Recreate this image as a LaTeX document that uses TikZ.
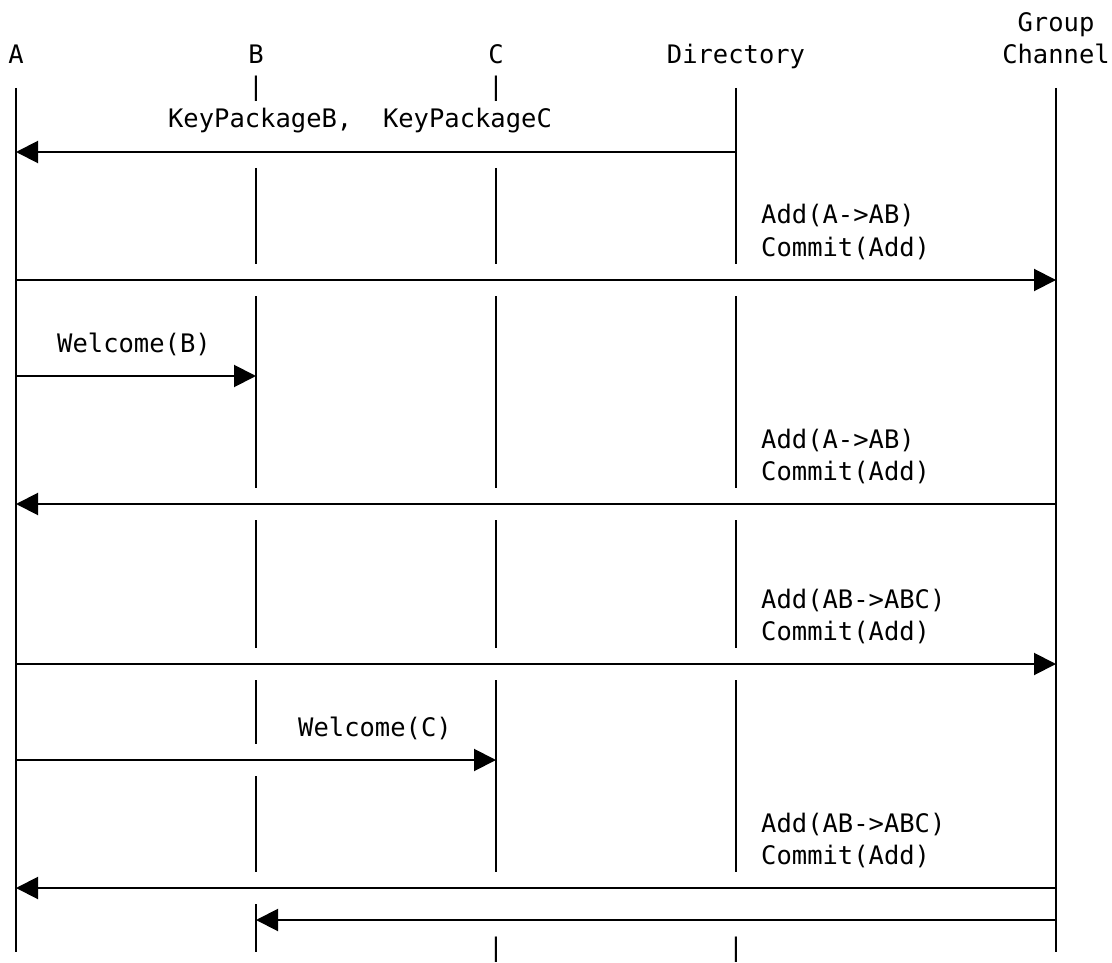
\documentclass[tikz,border=0pt]{standalone}
\usepackage{fontspec}
\setmonofont{DejaVu Sans Mono}
\usetikzlibrary{arrows.meta}
\begin{document}
\begin{tikzpicture}[x=1pt,y=-1pt,
  lbl/.style={font=\ttfamily\fontsize{25.5}{30}\selectfont, inner sep=0pt, anchor=base},
  note/.style={lbl, anchor=base west},
  life/.style={line width=2pt},
  msg/.style={line width=2pt, -{Triangle[length=22pt,width=22pt]}},
]
\useasboundingbox (0,0) rectangle (1112,963);

% participant headings
\node[lbl] (grp) at (1056,32) {Group};
\node[lbl] (hA)  at (16,64)   {A};
\node[lbl] (hB)  at (256,64)  {B};
\node[lbl] (hC)  at (496,64)  {C};
\node[lbl] (hD)  at (736,64)  {Directory};
\node[lbl] (hG)  at (1056,64) {Channel};
\node[lbl] (tB)  at (256,96)  {|};
\node[lbl] (tC)  at (496,96)  {|};
\node[lbl] (bC)  at (496,956) {|};
\node[lbl] (bD)  at (736,956) {|};

% lifelines
\draw[life] (16,88) -- (16,952);
\draw[life] (1056,88) -- (1056,952);
\draw[life] (736,88) -- (736,264);
\foreach \ya/\yb in {168/264,296/488,520/648,680/744,776/872,904/952}
  \draw[life] (256,\ya) -- (256,\yb);
\foreach \ya/\yb in {168/264,296/488,520/648,680/872}
  \draw[life] (496,\ya) -- (496,\yb);
\foreach \ya/\yb in {296/488,520/648,680/872}
  \draw[life] (736,\ya) -- (736,\yb);

% message end points
\coordinate (d1) at (736,152);  \coordinate (a1) at (16,152);
\coordinate (a2) at (16,280);   \coordinate (g2) at (1056,280);
\coordinate (a3) at (16,376);   \coordinate (b3) at (256,376);
\coordinate (g4) at (1056,504); \coordinate (a4) at (16,504);
\coordinate (a5) at (16,664);   \coordinate (g5) at (1056,664);
\coordinate (a6) at (16,760);   \coordinate (c6) at (496,760);
\coordinate (g7) at (1056,888); \coordinate (a7) at (16,888);
\coordinate (g8) at (1056,920); \coordinate (b8) at (256,920);

% messages
\draw[msg] (d1) -- (a1);
\draw[msg] (a2) -- (g2);
\draw[msg] (a3) -- (b3);
\draw[msg] (g4) -- (a4);
\draw[msg] (a5) -- (g5);
\draw[msg] (a6) -- (c6);
\draw[msg] (g7) -- (a7);
\draw[msg] (g8) -- (b8);

% message labels
\node[lbl]  (m1)  at (360,128) {KeyPackageB,\ \ KeyPackageC};
\node[note] (m2a) at (761,224) {Add(A->AB)};
\node[note] (m2b) at (761,256) {Commit(Add)};
\node[lbl]  (m3)  at (134,352) {Welcome(B)};
\node[note] (m4a) at (761,448) {Add(A->AB)};
\node[note] (m4b) at (761,480) {Commit(Add)};
\node[note] (m5a) at (761,608) {Add(AB->ABC)};
\node[note] (m5b) at (761,640) {Commit(Add)};
\node[lbl]  (m6)  at (375,736) {Welcome(C)};
\node[note] (m7a) at (761,832) {Add(AB->ABC)};
\node[note] (m7b) at (761,864) {Commit(Add)};
\end{tikzpicture}
\end{document}
